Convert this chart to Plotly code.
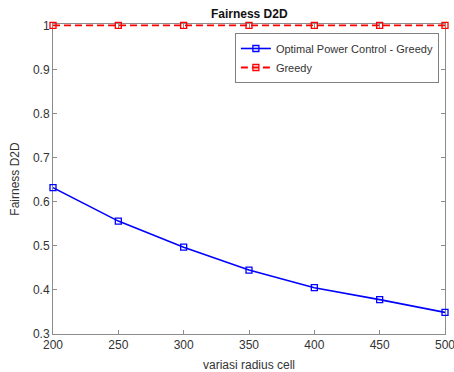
import plotly.graph_objects as go

radius = [200, 250, 300, 350, 400, 450, 500]
opc_greedy = [0.632, 0.556, 0.497, 0.445, 0.405, 0.378, 0.349]
greedy = [1, 1, 1, 1, 1, 1, 1]

fig = go.Figure()
fig.add_trace(go.Scatter(
    x=radius, y=opc_greedy, mode="lines+markers", name="Optimal Power Control - Greedy",
    line=dict(color="#0000ff", width=1.6),
    marker=dict(symbol="square-open", size=6, color="#0000ff", line=dict(width=1.3)),
    cliponaxis=False))
fig.add_trace(go.Scatter(
    x=radius, y=greedy, mode="lines+markers", name="Greedy",
    line=dict(color="#ff0000", width=1.8, dash="7px,4px"),
    marker=dict(symbol="square-open", size=6, color="#ff0000", line=dict(width=1.3)),
    cliponaxis=False))

axis_common = dict(showgrid=False, zeroline=False, showline=True, linecolor="#8c8c8c",
                   linewidth=1, mirror="ticks", ticks="inside", ticklen=4,
                   tickcolor="#8c8c8c", layer="below traces", ticklabeloverflow="allow",
                   automargin=False,
                   tickfont=dict(family="Liberation Sans, Arial", size=12, color="#333333"))

fig.update_layout(
    width=454, height=372,
    margin=dict(l=53, r=9, t=24, b=38),
    paper_bgcolor="white", plot_bgcolor="white",
    title=dict(text="<b>Fairness D2D</b>", x=0.549, xanchor="center", y=0.973, yanchor="top",
               font=dict(family="Liberation Sans, Arial", size=12, color="#111111")),
    xaxis=dict(range=[200, 500], tickvals=radius, title=dict(text="variasi radius cell", standoff=9,
               font=dict(family="Liberation Sans, Arial", size=12, color="#333333")), **axis_common),
    yaxis=dict(range=[0.3, 1.003], tickvals=[0.3, 0.4, 0.5, 0.6, 0.7, 0.8, 0.9, 1.0], tickformat="~g",
               title=dict(text="Fairness D2D", standoff=10,
               font=dict(family="Liberation Sans, Arial", size=12, color="#333333")), **axis_common),
    legend=dict(x=0.464, y=0.971, xanchor="left", yanchor="top", bgcolor="white",
                bordercolor="#808080", borderwidth=1,
                font=dict(family="Liberation Sans, Arial", size=11, color="#333333"),
                tracegroupgap=0, itemwidth=30),
    showlegend=True,
)
fig.write_html("out.html")
